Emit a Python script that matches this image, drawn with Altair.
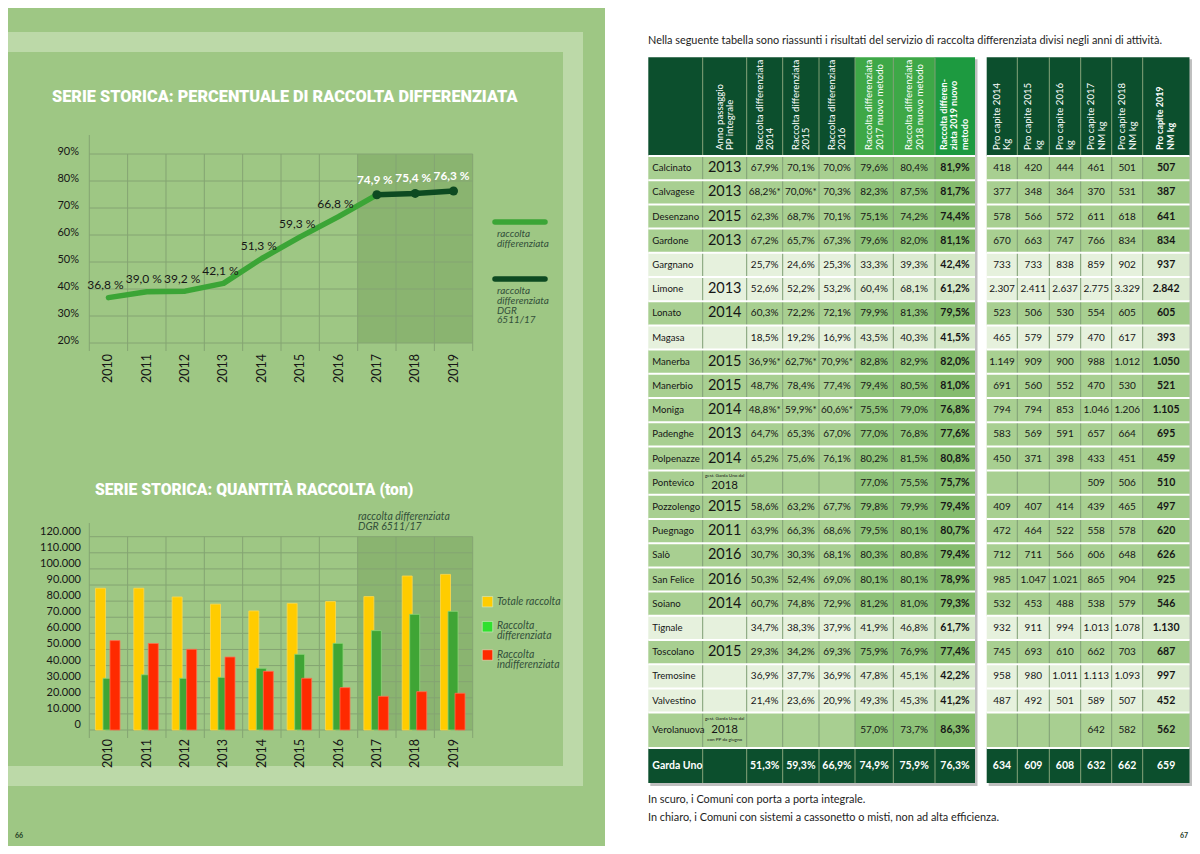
import altair as alt
import pandas as pd

# ===================== DATA =====================
ANNI = ['2010', '2011', '2012', '2013', '2014', '2015', '2016', '2017', '2018', '2019']
ANNI_DGR = ['2017', '2018', '2019']
PERC_RD = [36.8, 39.0, 39.2, 42.1, 51.3, 59.3, 66.8, 74.9, 75.4, 76.3]
PERC_TICKS = [20, 30, 40, 50, 60, 70, 80, 90]

TON_TOTALE = [88000, 88000, 82600, 78100, 73900, 78600, 79700, 82800, 95600, 96600]
TON_DIFF = [32100, 34300, 32100, 32700, 38300, 47000, 53800, 61700, 71800, 73700]
TON_INDIFF = [55500, 53700, 50100, 45300, 36400, 32100, 26300, 20900, 23800, 22800]
TON_TICKS = [0, 10000, 20000, 30000, 40000, 50000, 60000, 70000, 80000, 90000, 100000, 110000, 120000]

SERIE_LINEA = ['raccolta differenziata', 'raccolta differenziata DGR 6511/17']
SERIE_BARRE = ['Totale raccolta', 'Raccolta differenziata', 'Raccolta indifferenziata']

COMUNI = ['Calcinato', 'Calvagese', 'Desenzano', 'Gardone', 'Gargnano', 'Limone', 'Lonato', 'Magasa',
          'Manerba', 'Manerbio', 'Moniga', 'Padenghe', 'Polpenazze', 'Pontevico', 'Pozzolengo',
          'Puegnago', 'Salò', 'San Felice', 'Soiano', 'Tignale', 'Toscolano', 'Tremosine',
          'Valvestino', 'Verolanuova']
TIPO = ['scuro', 'scuro', 'scuro', 'scuro', 'chiaro', 'chiaro', 'scuro', 'chiaro',
        'scuro', 'scuro', 'scuro', 'scuro', 'scuro', 'scuro', 'scuro',
        'scuro', 'scuro', 'scuro', 'scuro', 'chiaro', 'scuro', 'chiaro',
        'chiaro', 'scuro']
ANNO_PP = ['2013', '2013', '2015', '2013', '', '2013', '2014', '', '2015', '2015', '2014', '2013',
           '2014', '2018', '2015', '2011', '2016', '2016', '2014', '', '2015', '', '', '2018']
NOTA_SU = ['', '', '', '', '', '', '', '', '', '', '', '', '', 'gest. Garda Uno dal', '', '', '', '',
           '', '', '', '', '', 'gest. Garda Uno dal']
NOTA_GIU = ['', '', '', '', '', '', '', '', '', '', '', '', '', '', '', '', '', '', '', '', '', '', '',
            'con PP da giugno']
RD_2014 = ['67,9%', '68,2%*', '62,3%', '67,2%', '25,7%', '52,6%', '60,3%', '18,5%', '36,9%*', '48,7%',
           '48,8%*', '64,7%', '65,2%', '', '58,6%', '63,9%', '30,7%', '50,3%', '60,7%', '34,7%',
           '29,3%', '36,9%', '21,4%', '']
RD_2015 = ['70,1%', '70,0%*', '68,7%', '65,7%', '24,6%', '52,2%', '72,2%', '19,2%', '62,7%*', '78,4%',
           '59,9%*', '65,3%', '75,6%', '', '63,2%', '66,3%', '30,3%', '52,4%', '74,8%', '38,3%',
           '34,2%', '37,7%', '23,6%', '']
RD_2016 = ['70,0%', '70,3%', '70,1%', '67,3%', '25,3%', '53,2%', '72,1%', '16,9%', '70,9%*', '77,4%',
           '60,6%*', '67,0%', '76,1%', '', '67,7%', '68,6%', '68,1%', '69,0%', '72,9%', '37,9%',
           '69,3%', '36,9%', '20,9%', '']
RD_2017 = ['79,6%', '82,3%', '75,1%', '79,6%', '33,3%', '60,4%', '79,9%', '43,5%', '82,8%', '79,4%',
           '75,5%', '77,0%', '80,2%', '77,0%', '79,8%', '79,5%', '80,3%', '80,1%', '81,2%', '41,9%',
           '75,9%', '47,8%', '49,3%', '57,0%']
RD_2018 = ['80,4%', '87,5%', '74,2%', '82,0%', '39,3%', '68,1%', '81,3%', '40,3%', '82,9%', '80,5%',
           '79,0%', '76,8%', '81,5%', '75,5%', '79,9%', '80,1%', '80,8%', '80,1%', '81,0%', '46,8%',
           '76,9%', '45,1%', '45,3%', '73,7%']
RD_2019 = ['81,9%', '81,7%', '74,4%', '81,1%', '42,4%', '61,2%', '79,5%', '41,5%', '82,0%', '81,0%',
           '76,8%', '77,6%', '80,8%', '75,7%', '79,4%', '80,7%', '79,4%', '78,9%', '79,3%', '61,7%',
           '77,4%', '42,2%', '41,2%', '86,3%']
PC_2014 = ['418', '377', '578', '670', '733', '2.307', '523', '465', '1.149', '691', '794', '583', '450',
           '', '409', '472', '712', '985', '532', '932', '745', '958', '487', '']
PC_2015 = ['420', '348', '566', '663', '733', '2.411', '506', '579', '909', '560', '794', '569', '371',
           '', '407', '464', '711', '1.047', '453', '911', '693', '980', '492', '']
PC_2016 = ['444', '364', '572', '747', '838', '2.637', '530', '579', '900', '552', '853', '591', '398',
           '', '414', '522', '566', '1.021', '488', '994', '610', '1.011', '501', '']
PC_2017 = ['461', '370', '611', '766', '859', '2.775', '554', '470', '988', '470', '1.046', '657', '433',
           '509', '439', '558', '606', '865', '538', '1.013', '662', '1.113', '589', '642']
PC_2018 = ['501', '531', '618', '834', '902', '3.329', '605', '617', '1.012', '530', '1.206', '664', '451',
           '506', '465', '578', '648', '904', '579', '1.078', '703', '1.093', '507', '582']
PC_2019 = ['507', '387', '641', '834', '937', '2.842', '605', '393', '1.050', '521', '1.105', '695', '459',
           '510', '497', '620', '626', '925', '546', '1.130', '687', '997', '452', '562']
TOTALE_NOME = 'Garda Uno'
TOTALE_RD = ['51,3%', '59,3%', '66,9%', '74,9%', '75,9%', '76,3%']
TOTALE_PC = ['634', '609', '608', '632', '662', '659']

INTESTAZIONI = {
    'anno': 'Anno passaggio|PP integrale',
    'r14': 'Raccolta differenziata|2014',
    'r15': 'Raccolta differenziata|2015',
    'r16': 'Raccolta differenziata|2016',
    'r17': 'Raccolta differenziata|2017 nuovo metodo',
    'r18': 'Raccolta differenziata|2018 nuovo metodo',
    'r19': 'Raccolta differen-|ziata 2019 nuovo|metodo',
    'p14': 'Pro capite 2014|Kg',
    'p15': 'Pro capite 2015|kg',
    'p16': 'Pro capite 2016|kg',
    'p17': 'Pro capite 2017|NM kg',
    'p18': 'Pro capite 2018|NM kg',
    'p19': 'Pro capite 2019|NM kg',
}
TESTO_INTRO = ('Nella seguente tabella sono riassunti i risultati del servizio di raccolta '
               'differenziata divisi negli anni di attività.')
NOTE_TABELLA = ['In scuro, i Comuni con porta a porta integrale.',
                'In chiaro, i Comuni con sistemi a cassonetto o misti, non ad alta efficienza.']
TITOLO_1 = 'SERIE STORICA: PERCENTUALE DI RACCOLTA DIFFERENZIATA'
TITOLO_2 = 'SERIE STORICA: QUANTITÀ RACCOLTA (ton)'
NOTA_DGR = ['raccolta differenziata', 'DGR 6511/17']

# ===================== STYLE / LAYOUT =====================
BG = '#9ec784'
FRAME = '#bcd9a8'
GRID = '#84a472'
SHADE = '#8ab470'
LIGHT_LINE = '#3ba536'
DARK_LINE = '#0d4a21'
INK = '#161616'
LEG_INK = '#33503a'
FONT = 'Lato'
TITLE_FONT = 'Roboto'
ONE = pd.DataFrame({'k': [0]})

LEFT_W, RIGHT_W = 597, 587
TOP_H, BOT_H = 412, 426


class Frame:
    """Converts page coordinates of the reference into the local pixels of one panel."""
    def __init__(self, ox, oy):
        self.ox, self.oy = ox, oy

    def X(self, v):
        return v - self.ox

    def Y(self, v):
        return v - self.oy

    def rect(self, x0, x1, y0, y1, color, **kw):
        return alt.Chart(ONE).mark_rect(color=color, **kw).encode(
            x=alt.value(self.X(x0)), x2=alt.value(self.X(x1)),
            y=alt.value(self.Y(y0)), y2=alt.value(self.Y(y1)))

    def rule(self, x0, x1, y0, y1, color, width=1.0, **kw):
        return alt.Chart(ONE).mark_rule(color=color, strokeWidth=width, **kw).encode(
            x=alt.value(self.X(x0)), x2=alt.value(self.X(x1)),
            y=alt.value(self.Y(y0)), y2=alt.value(self.Y(y1)))

    def text(self, txt, x, y, size, color=INK, weight='normal', style='normal', align='left',
             baseline='middle', font=FONT, lh=None):
        kw = dict(text=txt, fontSize=size, color=color, fontWeight=weight, fontStyle=style,
                  align=align, baseline=baseline, font=font)
        if lh:
            kw['lineHeight'] = lh
        return alt.Chart(ONE).mark_text(**kw).encode(x=alt.value(self.X(x)), y=alt.value(self.Y(y)))


PLOT_L, PLOT_R = 89.3, 472.7
years_df = pd.DataFrame({'anno': ANNI})
dgr_df = pd.DataFrame({'anno': ANNI_DGR})

# ===================== TOP-LEFT: LINE CHART =====================
F1 = Frame(8, 8)
xs_l = alt.Scale(domain=ANNI, range=[F1.X(PLOT_L), F1.X(PLOT_R)], paddingInner=0, paddingOuter=0)
ys_l = alt.Scale(domain=[20, 90], range=[F1.Y(343), F1.Y(154)], zero=False, nice=False)


def XL(**kw):
    return alt.X('anno:O', scale=xs_l, axis=None, **kw)


line_df = pd.DataFrame({'anno': ANNI, 'pct': PERC_RD})
line_df['etichetta'] = [f'{v:.1f}'.replace('.', ',') + ' %' for v in PERC_RD]
dgr_mask = line_df['anno'].isin(ANNI_DGR)
pt_df = pd.DataFrame({'v': PERC_TICKS, 'lab': [f'{t}%' for t in PERC_TICKS]})

l_frame_o = F1.rect(8, 583, 32, 420, FRAME)
l_frame_i = F1.rect(8, 563, 52, 420, BG)
l_title = F1.text(TITOLO_1, 52, 97, 16.3, 'white', weight=900, font=TITLE_FONT)
l_shade = alt.Chart(dgr_df).mark_rect(color=SHADE).encode(
    x=XL(), y=alt.value(F1.Y(154)), y2=alt.value(F1.Y(343)))
l_hgrid = alt.Chart(pt_df).mark_rule(color=GRID, strokeWidth=1).encode(
    y=alt.Y('v:Q', scale=ys_l, axis=None), x=alt.value(F1.X(PLOT_L)), x2=alt.value(F1.X(PLOT_R)))
l_vgrid = alt.Chart(years_df).mark_rule(color=GRID, strokeWidth=1).encode(
    x=XL(bandPosition=1), y=alt.value(F1.Y(154)), y2=alt.value(F1.Y(351)))
l_axis = F1.rule(PLOT_L, PLOT_L, 135, 351, GRID)
l_ylab = alt.Chart(pt_df).mark_text(align='right', baseline='middle', dy=-2, fontSize=11,
                                    font=FONT, color=INK).encode(
    x=alt.value(F1.X(79)), y=alt.Y('v:Q', scale=ys_l, axis=None), text='lab:N')
l_xlab = alt.Chart(years_df).mark_text(angle=270, align='right', baseline='middle', fontSize=12.5,
                                       font=FONT, color=INK).encode(
    x=XL(), y=alt.value(F1.Y(354)), text='anno:N')
l_line1 = alt.Chart(line_df[line_df['anno'] <= '2017']).mark_line(
    color=LIGHT_LINE, strokeWidth=5.5, strokeCap='round', strokeJoin='round').encode(
    x=XL(), y=alt.Y('pct:Q', scale=ys_l, axis=None))
l_line2 = alt.Chart(line_df[line_df['anno'] >= '2017']).mark_line(
    color=DARK_LINE, strokeWidth=5.5, strokeCap='round', strokeJoin='round').encode(
    x=XL(), y=alt.Y('pct:Q', scale=ys_l, axis=None))
l_pts = alt.Chart(line_df[dgr_mask]).mark_circle(color=DARK_LINE, size=80, opacity=1).encode(
    x=XL(), y=alt.Y('pct:Q', scale=ys_l, axis=None))
l_lab1 = alt.Chart(line_df[~dgr_mask]).mark_text(dy=-12.5, dx=-3, fontSize=12, font=FONT, color=INK).encode(
    x=XL(), y=alt.Y('pct:Q', scale=ys_l, axis=None), text='etichetta:N')
l_lab2 = alt.Chart(line_df[dgr_mask]).mark_text(dy=-15, dx=-2, fontSize=11.8, font=FONT,
                                                fontWeight='bold', color='white').encode(
    x=XL(), y=alt.Y('pct:Q', scale=ys_l, axis=None), text='etichetta:N')
l_leg1 = F1.rule(495, 545, 222, 222, LIGHT_LINE, 5.5, strokeCap='round')
l_leg1t = F1.text(SERIE_LINEA[0].split(' '), 497, 229, 10, LEG_INK, style='italic', baseline='top', lh=10)
l_leg2 = F1.rule(495, 545, 279, 279, DARK_LINE, 5.5, strokeCap='round')
l_leg2t = F1.text(SERIE_LINEA[1].split(' '), 497, 286, 10, LEG_INK, style='italic', baseline='top', lh=9.8)

top_left = alt.layer(
    l_frame_o, l_frame_i, l_title, l_shade, l_vgrid, l_hgrid, l_axis, l_ylab, l_xlab,
    l_line1, l_line2, l_pts, l_lab1, l_lab2, l_leg1, l_leg1t, l_leg2, l_leg2t
).properties(width=LEFT_W, height=TOP_H, view=alt.ViewBackground(fill=BG, strokeWidth=0))

# ===================== BOTTOM-LEFT: BAR CHART =====================
F2 = Frame(8, 420)
xs_b = alt.Scale(domain=ANNI, range=[F2.X(PLOT_L), F2.X(PLOT_R)], paddingInner=0, paddingOuter=0)
ys_b = alt.Scale(domain=[0, 120000], range=[F2.Y(730), F2.Y(536.7)], zero=False, nice=False)


def XB(**kw):
    return alt.X('anno:O', scale=xs_b, axis=None, **kw)


bar_df = pd.DataFrame({'anno': ANNI, 'totale': TON_TOTALE, 'diff': TON_DIFF, 'indiff': TON_INDIFF})
tt_df = pd.DataFrame({'v': TON_TICKS, 'lab': [f'{t:,}'.replace(',', '.') for t in TON_TICKS]})

b_frame_o = F2.rect(8, 583, 420, 786, FRAME)
b_frame_i = F2.rect(8, 563, 420, 766, BG)
b_title = F2.text(TITOLO_2, 95, 490, 15.7, 'white', weight=900, font=TITLE_FONT)
b_shade = alt.Chart(dgr_df).mark_rect(color=SHADE).encode(
    x=XB(), y=alt.value(F2.Y(536.7)), y2=alt.value(F2.Y(730)))
b_hgrid = alt.Chart(tt_df).mark_rule(color=GRID, strokeWidth=1).encode(
    y=alt.Y('v:Q', scale=ys_b, axis=None), x=alt.value(F2.X(PLOT_L)), x2=alt.value(F2.X(PLOT_R)))
b_vgrid = alt.Chart(years_df).mark_rule(color=GRID, strokeWidth=1).encode(
    x=XB(bandPosition=1), y=alt.value(F2.Y(536.7)), y2=alt.value(F2.Y(738)))
b_axis = F2.rule(PLOT_L, PLOT_L, 523, 738, GRID)
b_ylab = alt.Chart(tt_df).mark_text(align='right', baseline='middle', dy=-5, fontSize=11,
                                    font=FONT, color=INK).encode(
    x=alt.value(F2.X(81)), y=alt.Y('v:Q', scale=ys_b, axis=None), text='lab:N')
b_xlab = alt.Chart(years_df).mark_text(angle=270, align='right', baseline='middle', fontSize=12.5,
                                       font=FONT, color=INK).encode(
    x=XB(), y=alt.value(F2.Y(739)), text='anno:N')


def bars(field, color, off, stroke):
    return alt.Chart(bar_df).mark_bar(color=color, width=10, xOffset=off, stroke=stroke,
                                      strokeWidth=0.8).encode(
        x=XB(), y=alt.Y(f'{field}:Q', scale=ys_b, axis=None), y2=alt.value(F2.Y(730)))


b_tot = bars('totale', '#ffcc00', -8, '#ffd84a')
b_diff = bars('diff', '#3fa535', -0.5, '#8fd77a')
b_ind = bars('indiff', '#ff2a00', 6.5, '#ff7050')
b_note = F2.text(NOTA_DGR, 358, 512, 10.5, LEG_INK, style='italic', baseline='top', lh=10)

LEG_SQ = ['#ffcc00', '#2fe02f', '#ff2a00']
leg_y = [601.7, 626.7, 655]
b_leg = []
for name, col, yy in zip(SERIE_BARRE, LEG_SQ, leg_y):
    b_leg.append(alt.Chart(ONE).mark_square(color=col, size=110, opacity=1, stroke='#d9ecc9',
                                            strokeWidth=0.6).encode(
        x=alt.value(F2.X(487.5)), y=alt.value(F2.Y(yy))))
    lines = [name] if name.startswith('Totale') else name.split(' ')
    if len(lines) == 1:
        b_leg.append(F2.text(lines, 497, yy, 10.5, LEG_INK, style='italic'))
    else:
        b_leg.append(F2.text(lines, 497, yy - 5.5, 10.5, LEG_INK, style='italic', baseline='top', lh=10))

pn1 = F2.text('66', 15, 836, 7, '#1f3d1f', weight='bold')

bottom_left = alt.layer(
    b_frame_o, b_frame_i, b_title, b_shade, b_vgrid, b_hgrid, b_axis, b_ylab, b_xlab,
    b_tot, b_diff, b_ind, b_note, *b_leg, pn1
).properties(width=LEFT_W, height=BOT_H, view=alt.ViewBackground(fill=BG, strokeWidth=0))

# ===================== RIGHT PAGE: TABLE =====================
F3 = Frame(605, 8)
COLONNE = [('nome', 54.4), ('anno', 44), ('r14', 36), ('r15', 36.3), ('r16', 36), ('r17', 38.3),
           ('r18', 41.7), ('r19', 40), ('gap', 11.7), ('p14', 30.6), ('p15', 32), ('p16', 31.4),
           ('p17', 31), ('p18', 31), ('p19', 46.8)]
HEADER_H, ROW_H, TALL_H, FOOT_H = 98.7, 24.2, 35.4, 35.0
HDR_FS, HDR_LH = 9.6, 10.5
VALORI = {'r14': RD_2014, 'r15': RD_2015, 'r16': RD_2016, 'r17': RD_2017, 'r18': RD_2018,
          'r19': RD_2019, 'p14': PC_2014, 'p15': PC_2015, 'p16': PC_2016, 'p17': PC_2017,
          'p18': PC_2018, 'p19': PC_2019}
TOT_VAL = dict(zip(['r14', 'r15', 'r16', 'r17', 'r18', 'r19'], TOTALE_RD))
TOT_VAL.update(dict(zip(['p14', 'p15', 'p16', 'p17', 'p18', 'p19'], TOTALE_PC)))

cx = {}
acc = 0.0
for k, w in COLONNE:
    cx[k] = (acc, acc + w)
    acc += w
TAB_W = acc

rows = [dict(kind='header', y0=0.0, y1=HEADER_H, i=None)]
acc = HEADER_H
for i in range(len(COMUNI)):
    h = TALL_H if NOTA_GIU[i] else ROW_H
    rows.append(dict(kind=TIPO[i], y0=acc, y1=acc + h, i=i))
    acc += h
rows.append(dict(kind='totale', y0=acc, y1=acc + FOOT_H, i=None))
acc += FOOT_H
TAB_H = acc


def gruppo(k):
    if k in ('r17', 'r18'):
        return 'new'
    if k == 'r19':
        return 'r19'
    if k == 'p19':
        return 'p19'
    return 'base'


FILL = {
    'header_base': '#0c4f2d', 'header_new': '#3ea847', 'header_r19': '#1d9a40', 'header_p19': '#0c4f2d',
    'scuro_base': '#a8cf91', 'scuro_new': '#8ec279', 'scuro_r19': '#85bc6e', 'scuro_p19': '#9dc986',
    'chiaro_base': '#e6f1dd', 'chiaro_new': '#dcebd1', 'chiaro_r19': '#d5e8c9', 'chiaro_p19': '#dcebd1',
    'totale_base': '#0c4f2d', 'totale_new': '#0c4f2d', 'totale_r19': '#0c4f2d', 'totale_p19': '#0c4f2d',
}

tx = alt.Scale(domain=[0, TAB_W], range=[F3.X(648.3), F3.X(648.3 + TAB_W)], zero=False, nice=False)
ty = alt.Scale(domain=[0, TAB_H], range=[F3.Y(57.3), F3.Y(57.3 + TAB_H)], zero=False, nice=False)


def TX(f):
    return alt.X(f, scale=tx, axis=None)


def TY(f):
    return alt.Y(f, scale=ty, axis=None)


blocchi = [('nome', 'r19'), ('p14', 'p19')]
shadow_df = pd.DataFrame([dict(x0=cx[a][0] + 2, x1=cx[b][1] + 2.5, y0=2.0, y1=TAB_H + 3.0)
                          for a, b in blocchi])
t_shadow = alt.Chart(shadow_df).mark_rect(color='#8a8a8a', opacity=0.55).encode(
    x=TX('x0:Q'), x2='x1:Q', y=TY('y0:Q'), y2='y1:Q')

cells = []
for r in rows:
    for k, w in COLONNE:
        if k == 'gap':
            continue
        cells.append(dict(x0=cx[k][0], x1=cx[k][1], y0=r['y0'], y1=r['y1'],
                          fill=f"{r['kind']}_{gruppo(k)}"))
cells_df = pd.DataFrame(cells)
t_cells = alt.Chart(cells_df).mark_rect().encode(
    x=TX('x0:Q'), x2='x1:Q', y=TY('y0:Q'), y2='y1:Q',
    color=alt.Color('fill:N', scale=alt.Scale(domain=list(FILL.keys()), range=list(FILL.values())),
                    legend=None))

keys = [k for k, _ in COLONNE]
vsep = []
for a, b in blocchi:
    ia, ib = keys.index(a), keys.index(b)
    for k in keys[ia:ib]:
        vsep.append(dict(x=cx[k][1], y0=0.0, y1=TAB_H))
vsep_df = pd.DataFrame(vsep)
t_vsep = alt.Chart(vsep_df).mark_rule(color='#7f9f74', strokeWidth=1).encode(
    x=TX('x:Q'), y=TY('y0:Q'), y2='y1:Q')

hsep = []
for r in rows[:-1]:
    for a, b in blocchi:
        hsep.append(dict(y=r['y1'], x0=cx[a][0], x1=cx[b][1]))
hsep_df = pd.DataFrame(hsep)
t_hsep = alt.Chart(hsep_df).mark_rule(color='white', strokeWidth=2).encode(
    y=TY('y:Q'), x=TX('x0:Q'), x2='x1:Q')

# header labels: rotated block, first line's top at the left edge of the centred block
hdr = []
for k, h in INTESTAZIONI.items():
    n = len(h.split('|'))
    block = (n - 1) * HDR_LH + HDR_FS
    hdr.append(dict(x=(cx[k][0] + cx[k][1]) / 2 - block / 2, y=HEADER_H - 6, h=h,
                    bold=k in ('r19', 'p19')))
hdr_df = pd.DataFrame(hdr)


def hdr_layer(bold):
    return alt.Chart(hdr_df[hdr_df['bold'] == bold]).transform_calculate(
        righe="split(datum.h, '|')").mark_text(
        angle=270, align='left', baseline='top', fontSize=HDR_FS - (0.6 if bold else 0),
        lineHeight=HDR_LH, font=FONT, color='white', fontWeight='bold' if bold else 'normal').encode(
        x=TX('x:Q'), y=TY('y:Q'), text='righe:N')


t_hdr1 = hdr_layer(False)
t_hdr2 = hdr_layer(True)

names, anni_big, anni_small, note_su, note_giu, vals, vals_b = [], [], [], [], [], [], []
for r in rows:
    i = r['i']
    if i is None:
        continue
    yc = (r['y0'] + r['y1']) / 2
    names.append(dict(x=cx['nome'][0] + 4, y=yc, t=COMUNI[i]))
    xa = (cx['anno'][0] + cx['anno'][1]) / 2
    if ANNO_PP[i]:
        if NOTA_SU[i]:
            if NOTA_GIU[i]:
                anni_small.append(dict(x=xa, y=yc, t=ANNO_PP[i]))
                note_su.append(dict(x=xa, y=yc - 11, t=NOTA_SU[i]))
                note_giu.append(dict(x=xa, y=yc + 10, t=NOTA_GIU[i]))
            else:
                anni_small.append(dict(x=xa, y=yc + 3, t=ANNO_PP[i]))
                note_su.append(dict(x=xa, y=yc - 7, t=NOTA_SU[i]))
        else:
            anni_big.append(dict(x=xa, y=yc, t=ANNO_PP[i]))
    for k, arr in VALORI.items():
        if not arr[i]:
            continue
        rec = dict(x=(cx[k][0] + cx[k][1]) / 2, y=yc, t=arr[i])
        (vals_b if k in ('r19', 'p19') else vals).append(rec)

tot_row = rows[-1]
yc_tot = (tot_row['y0'] + tot_row['y1']) / 2
tot_texts = [dict(x=(cx[k][0] + cx[k][1]) / 2, y=yc_tot, t=v) for k, v in TOT_VAL.items()]


def tab_text(recs, size, align='center', weight='normal', color=INK):
    return alt.Chart(pd.DataFrame(recs)).mark_text(
        align=align, baseline='middle', fontSize=size, font=FONT, fontWeight=weight, color=color).encode(
        x=TX('x:Q'), y=TY('y:Q'), text='t:N')


t_names = tab_text(names, 9.6, align='left')
t_anni_big = tab_text(anni_big, 14.5)
t_anni_small = tab_text(anni_small, 11.5)
t_note_su = tab_text(note_su, 4.6)
t_note_giu = tab_text(note_giu, 4.6)
t_vals = tab_text(vals, 10)
t_vals_b = tab_text(vals_b, 10.5, weight='bold')
t_tot_name = tab_text([dict(x=cx['nome'][0] + 4, y=yc_tot, t=TOTALE_NOME)], 10.5, align='left',
                      weight='bold', color='white')
t_tot_vals = tab_text(tot_texts, 10.5, weight='bold', color='white')

intro = F3.text(TESTO_INTRO, 648, 41, 10.9, '#1d1d1d')
foot1 = F3.text(NOTE_TABELLA[0], 648, 800, 10.9, '#1d1d1d')
foot2 = F3.text(NOTE_TABELLA[1], 648, 818, 10.9, '#1d1d1d')
pn2 = F3.text('67', 1188, 836, 7, '#1f3d1f', weight='bold', align='right')

right_page = alt.layer(
    intro, t_shadow, t_cells, t_vsep, t_hsep, t_hdr1, t_hdr2, t_names, t_anni_big,
    t_anni_small, t_note_su, t_note_giu, t_vals, t_vals_b, t_tot_name, t_tot_vals,
    foot1, foot2, pn2
).properties(width=RIGHT_W, height=838, view=alt.ViewBackground(fill='white', strokeWidth=0))

left_page = alt.vconcat(top_left, bottom_left, spacing=0, bounds='flush')
chart = alt.hconcat(left_page, right_page, spacing=0).properties(
    padding=0, background='white'
).configure_view(strokeWidth=0)

chart.save('out.html', embed_options={'renderer': 'svg', 'actions': False})
